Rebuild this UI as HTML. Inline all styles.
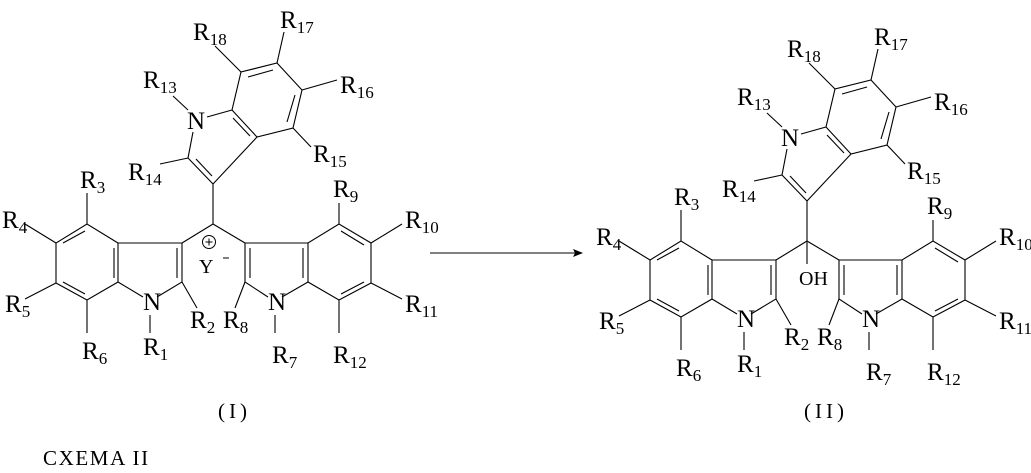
<!DOCTYPE html>
<html><head><meta charset="utf-8"><style>
html,body{margin:0;padding:0;background:#fff;width:1031px;height:473px;overflow:hidden}
svg{display:block}
text{font-family:"Liberation Serif",serif;fill:#000}
.r{font-size:25px}
.s{font-size:17px}
.m{font-family:"Liberation Serif",serif;font-size:21px;letter-spacing:1.6px}
</style></head><body>
<svg width="1031" height="473" viewBox="0 0 1031 473" xmlns="http://www.w3.org/2000/svg">
<defs>
<g id="mol">
<g stroke="#000" stroke-width="1.1" fill="none">
<polyline points="232,110 241,72 277,63 302,90 293,128 257,137 232,110"/>
<line x1="257" y1="137" x2="213" y2="184"/>
<line x1="213" y1="184" x2="188" y2="158"/>
<line x1="188" y1="158" x2="193" y2="132"/>
<line x1="207" y1="117" x2="232" y2="110"/>
<line x1="248" y1="77" x2="273" y2="70"/>
<line x1="295" y1="95" x2="287" y2="122"/>
<line x1="233" y1="118" x2="250" y2="136"/>
<line x1="196" y1="159" x2="212" y2="176"/>
<line x1="241" y1="72" x2="215" y2="46"/>
<line x1="277" y1="63" x2="284" y2="32"/>
<line x1="302" y1="90" x2="337" y2="80"/>
<line x1="293" y1="128" x2="311" y2="147"/>
<line x1="173" y1="96" x2="188" y2="110"/>
<line x1="188" y1="158" x2="160" y2="164"/>
<line x1="213" y1="184" x2="213" y2="224"/>
<line x1="213" y1="224" x2="182" y2="243"/>
<line x1="213" y1="224" x2="245" y2="243"/>
<polyline points="118,243 87,224 56,243 56,283 87,300 118,282 118,243 182,243 182,282 157,297"/>
<line x1="118" y1="282" x2="143" y2="297"/>
<line x1="63" y1="243" x2="85" y2="231"/>
<line x1="63" y1="282" x2="85" y2="294"/>
<line x1="114" y1="248" x2="114" y2="278"/>
<line x1="177" y1="248" x2="177" y2="278"/>
<line x1="87" y1="224" x2="87" y2="193"/>
<line x1="56" y1="243" x2="25" y2="224"/>
<line x1="56" y1="283" x2="25" y2="299"/>
<line x1="87" y1="300" x2="87" y2="333"/>
<line x1="150" y1="315" x2="150" y2="333"/>
<line x1="182" y1="282" x2="197" y2="308"/>
<polyline points="268,297 245,282 245,243 308,243 339,224 371,243 371,283 339,300 308,282 308,243"/>
<line x1="282" y1="297" x2="308" y2="282"/>
<line x1="250" y1="248" x2="250" y2="278"/>
<line x1="303" y1="248" x2="303" y2="278"/>
<line x1="341" y1="231" x2="364" y2="245"/>
<line x1="364" y1="282" x2="341" y2="294"/>
<line x1="339" y1="224" x2="339" y2="203"/>
<line x1="371" y1="243" x2="402" y2="224"/>
<line x1="371" y1="283" x2="402" y2="299"/>
<line x1="339" y1="300" x2="339" y2="333"/>
<line x1="275" y1="315" x2="275" y2="333"/>
<line x1="245" y1="282" x2="235" y2="308"/>
</g>
<text class="r" x="187" y="129">N</text>
<text class="r" x="143" y="310">N</text>
<text class="r" x="268" y="310">N</text>
<text class="r" x="193" y="40">R<tspan class="s" dy="5">18</tspan></text>
<text class="r" x="280" y="28">R<tspan class="s" dy="5">17</tspan></text>
<text class="r" x="340" y="93">R<tspan class="s" dy="5">16</tspan></text>
<text class="r" x="143" y="88">R<tspan class="s" dy="5">13</tspan></text>
<text class="r" x="313" y="162">R<tspan class="s" dy="5">15</tspan></text>
<text class="r" x="128" y="180">R<tspan class="s" dy="5">14</tspan></text>
<text class="r" x="80" y="188">R<tspan class="s" dy="5">3</tspan></text>
<text class="r" x="333" y="197">R<tspan class="s" dy="5">9</tspan></text>
<text class="r" x="405" y="228">R<tspan class="s" dy="5">10</tspan></text>
<text class="r" x="2" y="228">R<tspan class="s" dy="5">4</tspan></text>
<text class="r" x="5" y="312">R<tspan class="s" dy="5">5</tspan></text>
<text class="r" x="405" y="312">R<tspan class="s" dy="5">11</tspan></text>
<text class="r" x="82" y="359">R<tspan class="s" dy="5">6</tspan></text>
<text class="r" x="143" y="355">R<tspan class="s" dy="5">1</tspan></text>
<text class="r" x="190" y="328">R<tspan class="s" dy="5">2</tspan></text>
<text class="r" x="223" y="328">R<tspan class="s" dy="5">8</tspan></text>
<text class="r" x="272" y="363">R<tspan class="s" dy="5">7</tspan></text>
<text class="r" x="333" y="363">R<tspan class="s" dy="5">12</tspan></text>
</g>
</defs>
<use href="#mol"/>
<circle cx="209" cy="242" r="6.5" fill="none" stroke="#000" stroke-width="1"/>
<line x1="205.5" y1="242" x2="212.5" y2="242" stroke="#000"/>
<line x1="209" y1="238.5" x2="209" y2="245.5" stroke="#000"/>
<text x="199" y="273" style="font-size:20px">Y</text>
<line x1="223" y1="258" x2="229" y2="258" stroke="#000"/>
<text class="m" x="218" y="418" style="letter-spacing:4px">(I)</text>
<line x1="430" y1="253" x2="576" y2="253" stroke="#000" stroke-width="1.1"/>
<polygon points="583,253 573,249 575,253 573,257" fill="#000"/>
<g transform="translate(594,17)">
<use href="#mol"/>
<line x1="213" y1="225" x2="213" y2="247" stroke="#000" stroke-width="1.1"/>
<text x="205" y="268" style="font-size:20px">OH</text>
</g>
<text class="m" x="804" y="418" style="letter-spacing:4px">(II)</text>
<text class="m" x="43" y="465">CXEMA II</text>
</svg>
</body></html>
